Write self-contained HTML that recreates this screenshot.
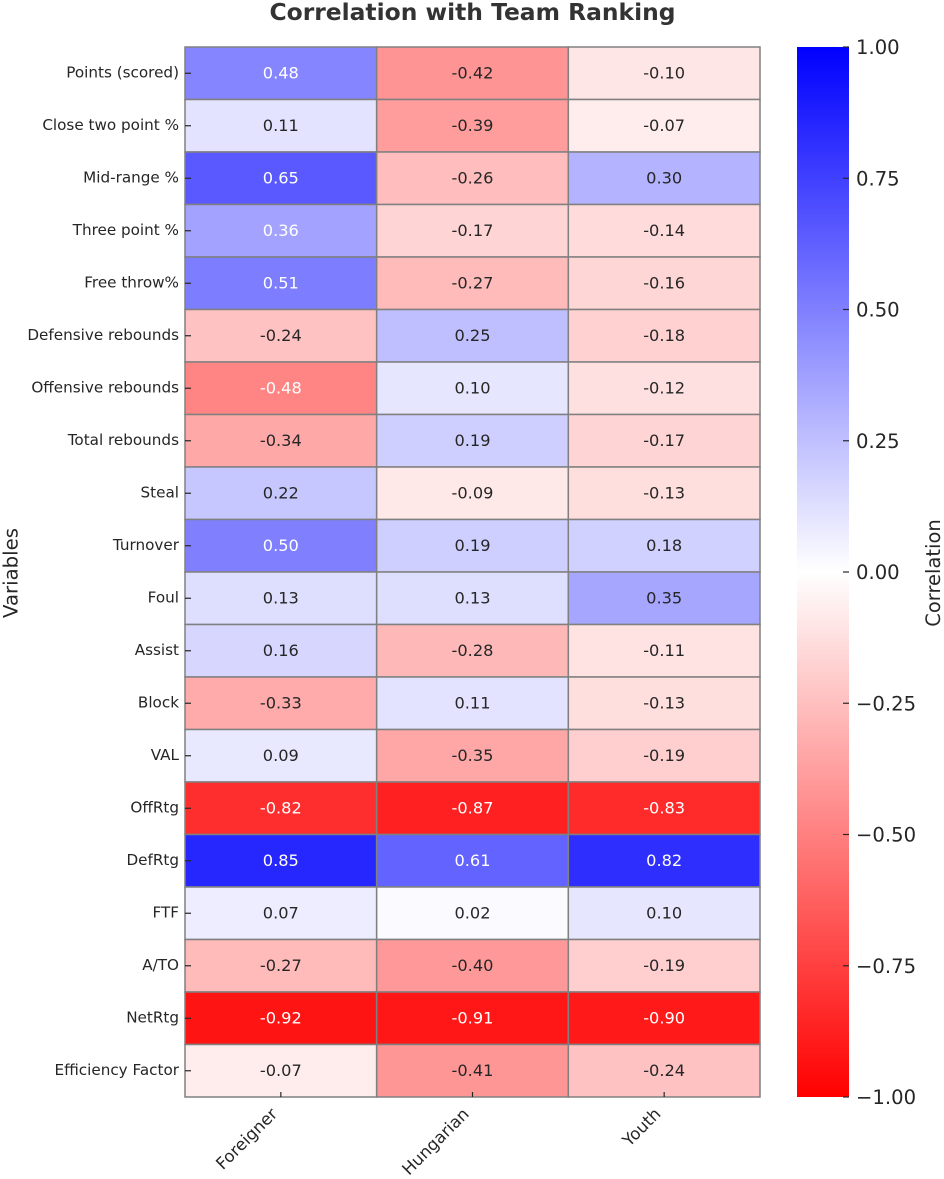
<!DOCTYPE html>
<html>
<head>
<meta charset="utf-8">
<title>Correlation with Team Ranking</title>
<style>
html,body{margin:0;padding:0;background:#fff;}
svg{display:block;font-family:"DejaVu Sans","Liberation Sans",sans-serif;}
</style>
</head>
<body>
<svg id="chart" xmlns="http://www.w3.org/2000/svg" width="944" height="1179" viewBox="0 0 944 1179">
  <text x="472.5" y="20" text-anchor="middle" font-size="23.4" font-weight="bold" fill="#333">Correlation with Team Ranking</text>
  <text transform="translate(17.5,573) rotate(-90)" text-anchor="middle" font-size="19.7" fill="#262626">Variables</text>
  <text transform="translate(940,573) rotate(-90)" text-anchor="middle" font-size="19.5" fill="#262626">Correlation</text>
</svg>
<script>
const variables = ["Points (scored)","Close two point %","Mid-range %","Three point %","Free throw%","Defensive rebounds","Offensive rebounds","Total rebounds","Steal","Turnover","Foul","Assist","Block","VAL","OffRtg","DefRtg","FTF","A/TO","NetRtg","Efficiency Factor"];
const groups = ["Foreigner","Hungarian","Youth"];
const foreigner = [0.48,0.11,0.65,0.36,0.51,-0.24,-0.48,-0.34,0.22,0.50,0.13,0.16,-0.33,0.09,-0.82,0.85,0.07,-0.27,-0.92,-0.07];
const hungarian = [-0.42,-0.39,-0.26,-0.17,-0.27,0.25,0.10,0.19,-0.09,0.19,0.13,-0.28,0.11,-0.35,-0.87,0.61,0.02,-0.40,-0.91,-0.41];
const youth = [-0.10,-0.07,0.30,-0.14,-0.16,-0.18,-0.12,-0.17,-0.13,0.18,0.35,-0.11,-0.13,-0.19,-0.83,0.82,0.10,-0.19,-0.90,-0.24];
const colorbarTicks = [1,0.75,0.5,0.25,0,-0.25,-0.5,-0.75,-1];

const seriesValues = [foreigner, hungarian, youth];
const svg = document.getElementById('chart');
const NS = 'http://www.w3.org/2000/svg';
const plot = {left:185, right:760, top:47, bottom:1097};
const bar = {left:797, right:849, top:47, bottom:1097};
const xBand = (plot.right - plot.left) / groups.length;
const yBand = (plot.bottom - plot.top) / variables.length;
function xScale(i){ return plot.left + i * xBand; }
function yScale(i){ return plot.top + i * yBand; }
function barScale(v){ return bar.top + (1 - v) / 2 * (bar.bottom - bar.top); }
function channels(v){
  const c = Math.max(-1, Math.min(1, v));
  if (c >= 0) { const t = Math.round(255 * (1 - c)); return [t, t, 255]; }
  const t = Math.round(255 * (1 + c));
  return [255, t, t];
}
function colorOf(v){ return 'rgb(' + channels(v).join(',') + ')'; }
function textColor(v){
  const lin = channels(v).map(function(x){ const s = x / 255; return s <= 0.03928 ? s / 12.92 : Math.pow((s + 0.055) / 1.055, 2.4); });
  const lum = 0.2126 * lin[0] + 0.7152 * lin[1] + 0.0722 * lin[2];
  return lum < 0.415 ? '#ffffff' : '#262626';
}
function make(tag, attrs, parent){
  const el = document.createElementNS(NS, tag);
  for (const k in attrs) el.setAttribute(k, attrs[k]);
  (parent || svg).appendChild(el);
  return el;
}

const cellLayer = make('g', {});


seriesValues.forEach(function(values, col){
  values.forEach(function(v, row){
    const rect = make('rect', {x:xScale(col), y:yScale(row), width:xBand, height:yBand, fill:colorOf(v), stroke:'#808080', 'stroke-width':1.5}, cellLayer);
    
    
  });
});
seriesValues.forEach(function(values, col){
  values.forEach(function(v, row){
    const label = make('text', {x:xScale(col) + xBand / 2, y:yScale(row) + yBand / 2 + 5, 'text-anchor':'middle', 'font-size':16.2, fill:textColor(v)}, cellLayer);
    label.textContent = v.toFixed(2);
    
    
  });
});

variables.forEach(function(name, row){
  const cy = yScale(row) + yBand / 2;
  const tick = make('line', {x1:plot.left, x2:plot.left + 6, y1:cy, y2:cy, stroke:'#262626', 'stroke-width':1.2});
  
  
  const label = make('text', {x:179, y:cy + 4, 'text-anchor':'end', 'font-size':15.2, fill:'#262626'});
  label.textContent = name;
  
  
});

groups.forEach(function(name, col){
  const cx = xScale(col) + xBand / 2;
  const tick = make('line', {x1:cx, x2:cx, y1:plot.bottom - 5, y2:plot.bottom, stroke:'#262626', 'stroke-width':1.2});
  
  
  const label = make('text', {transform:'translate(' + (cx - 2.5) + ',1115) rotate(-45)', 'text-anchor':'end', 'font-size':16.6, fill:'#262626'});
  label.textContent = name;
  
  
});

const defs = make('defs', {});
const grad = make('linearGradient', {id:'bwrGradient', x1:0, y1:0, x2:0, y2:1}, defs);
make('stop', {offset:'0%', 'stop-color':colorOf(1)}, grad);
make('stop', {offset:'50%', 'stop-color':colorOf(0)}, grad);
make('stop', {offset:'100%', 'stop-color':colorOf(-1)}, grad);
const colorbar = make('rect', {x:bar.left, y:bar.top, width:bar.right - bar.left, height:bar.bottom - bar.top, fill:'url(#bwrGradient)'});


colorbarTicks.forEach(function(v){
  const y = barScale(v);
  const tick = make('line', {x1:bar.right - 6, x2:bar.right, y1:y, y2:y, stroke:'#262626', 'stroke-width':1.2});
  
  
  const label = make('text', {x:856, y:y + 7, 'font-size':19.6, fill:'#262626'});
  label.textContent = v.toFixed(2).replace('-', '\u2212');
  
  
});
</script>
</body>
</html>
